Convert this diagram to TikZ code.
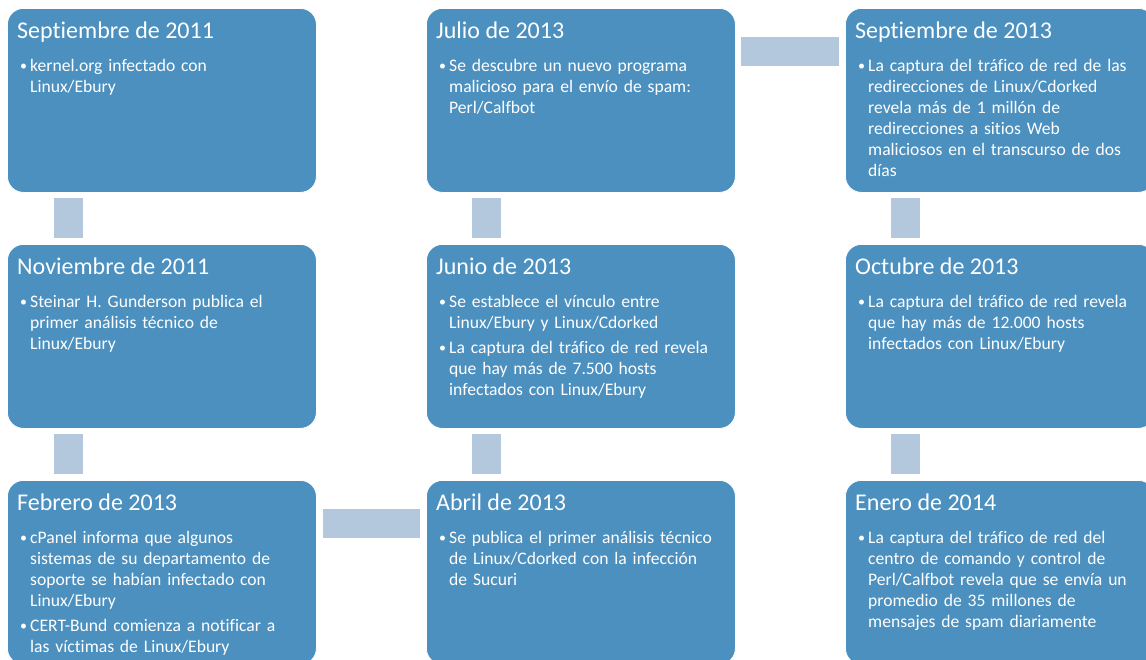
\documentclass[tikz,border=0pt]{standalone}
\usepackage{fontspec}
\setmainfont{Carlito}[Ligatures=NoCommon]
\usetikzlibrary{calc}
\definecolor{boxblue}{RGB}{76,144,191}
\definecolor{connblue}{RGB}{179,199,221}
\tikzset{
 evbox/.style={rectangle, rounded corners=16pt, fill=boxblue, draw=white, line width=0.8pt, minimum width=309pt, minimum height=184pt, anchor=north west, inner sep=0pt},
 evtitle/.style={anchor=base west, inner sep=0pt, text=white, font=\fontsize{24}{28}\selectfont},
 evbody/.style={anchor=base west, inner sep=0pt, text=white, text width=300pt, font=\fontsize{17.6}{21}\selectfont},
 conn/.style={draw=connblue, line width=29pt, line cap=butt},
}
\newcommand\blt{\llap{\makebox[10pt][l]{\raisebox{0.6pt}{\fontsize{14}{14}\selectfont •}}}}
\newcommand\itmf[1]{\ifvmode\noindent\fi\blt#1}
\newcommand\itm[1]{\par\noindent\blt#1}
\newcommand\evt[5]{%
 \node[evbox] (#1) at (#2,#3) {};
 \node[evtitle] (#1t) at ($(#1.north west)+(10,30.5)$) {#4};
 \node[evbody] (#1b) at ($(#1.north west)+(13,63)$) {\leftskip=10pt\parskip=4pt\parindent=0pt #5\par};
}
\begin{document}
\begin{tikzpicture}[x=1pt,y=-1pt]
\useasboundingbox (0,0) rectangle (1146,659);
\evt{s11}{7}{8}{Septiembre de 2011}{\itmf{kernel.org infectado con\\Linux/Ebury}}
\evt{n11}{7}{244}{Noviembre de 2011}{\itmf{Steinar H. Gunderson publica el\\primer análisis técnico de\\Linux/Ebury}}
\evt{f13}{7}{480}{Febrero de 2013}{\itmf{cPanel informa que algunos\\sistemas de su departamento de\\soporte se habían infectado con\\Linux/Ebury}\itm{CERT-Bund comienza a notificar a\\las víctimas de Linux/Ebury}}
\evt{a13}{426}{480}{Abril de 2013}{\itmf{Se publica el primer análisis técnico\\de Linux/Cdorked con la infección\\de Sucuri}}
\evt{jn13}{426}{244}{Junio de 2013}{\itmf{Se establece el vínculo entre\\Linux/Ebury y Linux/Cdorked}\itm{La captura del tráfico de red revela\\que hay más de 7.500 hosts\\infectados con Linux/Ebury}}
\evt{jl13}{426}{8}{Julio de 2013}{\itmf{Se descubre un nuevo programa\\malicioso para el envío de spam:\\Perl/Calfbot}}
\evt{s13}{845}{8}{Septiembre de 2013}{\itmf{La captura del tráfico de red de las\\redirecciones de Linux/Cdorked\\revela más de 1 millón de\\redirecciones a sitios Web\\maliciosos en el transcurso de dos\\días}}
\evt{o13}{845}{244}{Octubre de 2013}{\itmf{La captura del tráfico de red revela\\que hay más de 12.000 hosts\\infectados con Linux/Ebury}}
\evt{e14}{845}{480}{Enero de 2014}{\itmf{La captura del tráfico de red del\\centro de comando y control de\\Perl/Calfbot revela que se envía un\\promedio de 35 millones de\\mensajes de spam diariamente}}
% connectors
\draw[conn] ([xshift=61.5pt,yshift=-5pt]s11.south west) -- ([xshift=61.5pt,yshift=6pt]n11.north west);
\draw[conn] ([xshift=61.5pt,yshift=-5pt]n11.south west) -- ([xshift=61.5pt,yshift=6pt]f13.north west);
\draw[conn] ([xshift=6pt,yshift=-43.5pt]f13.north east) -- ([xshift=-6pt,yshift=-43.5pt]a13.north west);
\draw[conn] ([xshift=60.5pt,yshift=6pt]a13.north west) -- ([xshift=60.5pt,yshift=-5pt]jn13.south west);
\draw[conn] ([xshift=60.5pt,yshift=6pt]jn13.north west) -- ([xshift=60.5pt,yshift=-5pt]jl13.south west);
\draw[conn] ([xshift=5pt,yshift=-43.5pt]jl13.north east) -- ([xshift=-6pt,yshift=-43.5pt]s13.north west);
\draw[conn] ([xshift=60.5pt,yshift=-5pt]s13.south west) -- ([xshift=60.5pt,yshift=6pt]o13.north west);
\draw[conn] ([xshift=60.5pt,yshift=-5pt]o13.south west) -- ([xshift=60.5pt,yshift=6pt]e14.north west);
\end{tikzpicture}
\end{document}
